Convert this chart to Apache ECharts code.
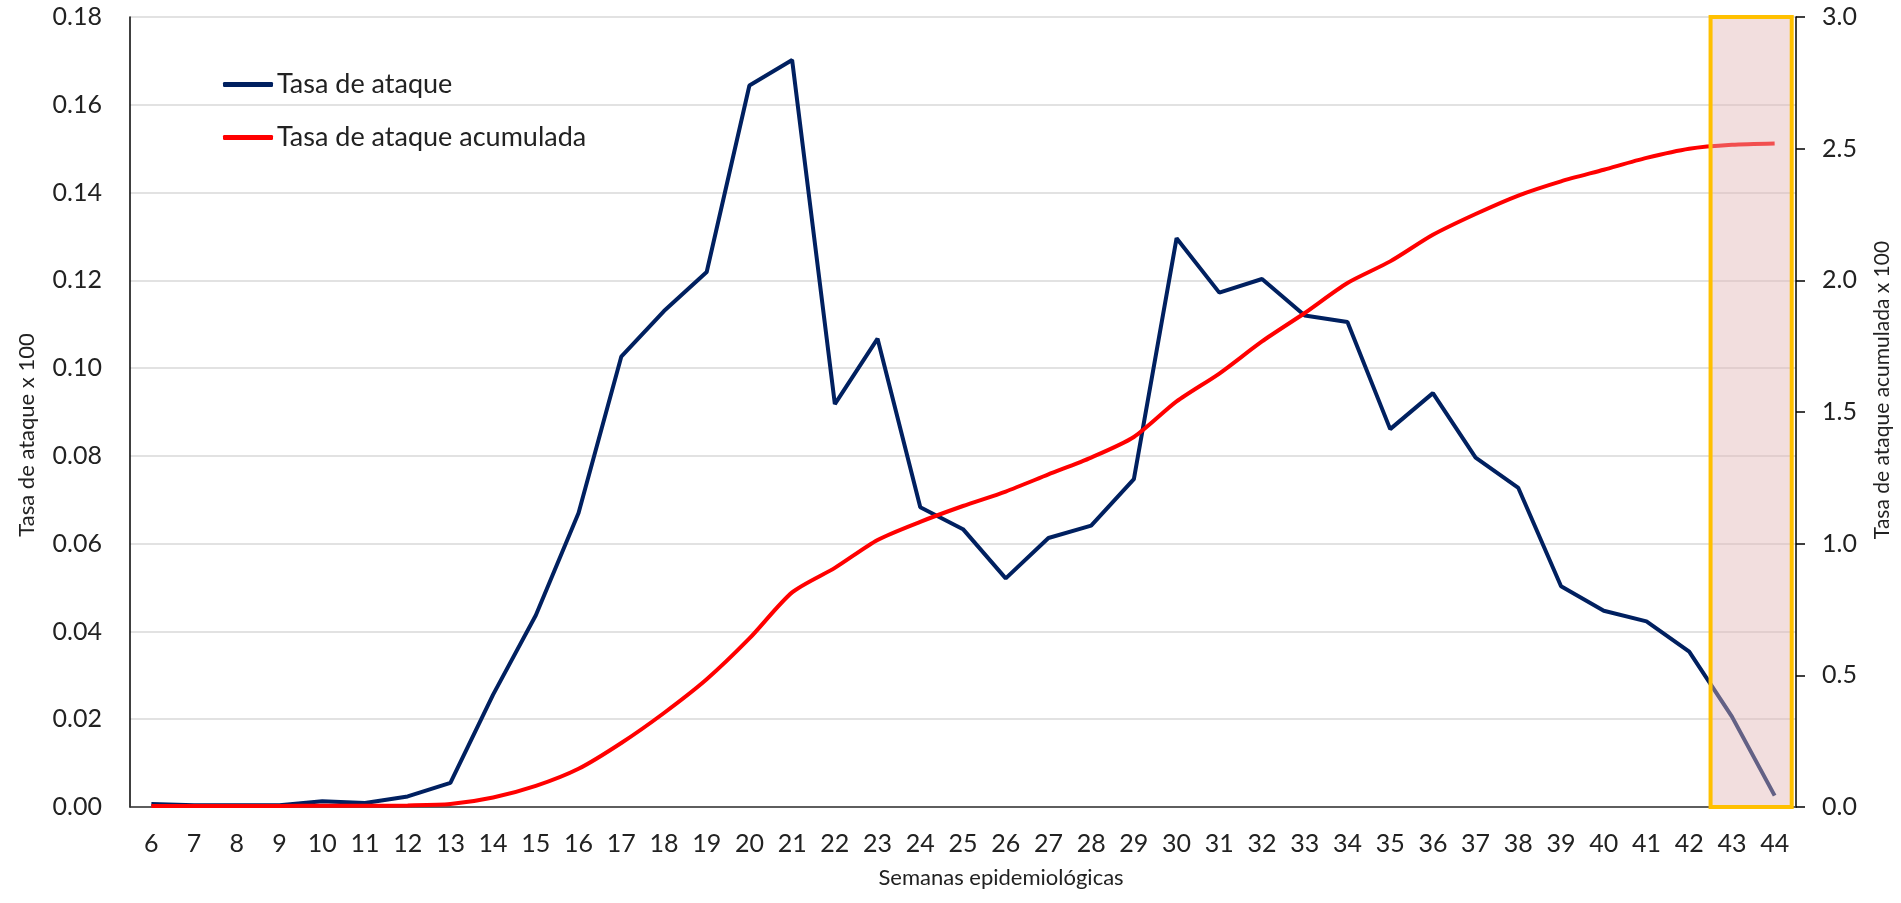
<!DOCTYPE html>
<html>
<head>
<meta charset="utf-8">
<script src="https://cdn.jsdelivr.net/npm/echarts@6/dist/echarts.min.js"></script>
<style>
  html, body { margin: 0; padding: 0; background: #fff; }
  #chart { width: 1901px; height: 903px; }
</style>
</head>
<body>
<div id="chart"></div>
<script>
// semanas epidemiológicas
var semanas = ['6','7','8','9','10','11','12','13','14','15','16','17','18','19','20','21','22','23','24','25',
  '26','27','28','29','30','31','32','33','34','35','36','37','38','39','40','41','42','43','44'];

// tasa de ataque x 100 (eje izquierdo)
var tasaAtaque = [0.0007, 0.0004, 0.0004, 0.0004, 0.0013, 0.0009, 0.0024, 0.0055, 0.0256, 0.0437,
  0.0670, 0.1026, 0.1130, 0.1219, 0.1644, 0.1702, 0.0918, 0.1067, 0.0683, 0.0633,
  0.0521, 0.0613, 0.0641, 0.0747, 0.1296, 0.1172, 0.1203, 0.1120, 0.1105, 0.0861,
  0.0943, 0.0796, 0.0727, 0.0503, 0.0447, 0.0423, 0.0354, 0.0206, 0.0026];

// tasa de ataque acumulada x 100 (eje derecho)
var tasaAcumulada = [0.004, 0.004, 0.004, 0.004, 0.005, 0.005, 0.006, 0.011, 0.036, 0.080,
  0.145, 0.243, 0.357, 0.485, 0.640, 0.815, 0.908, 1.014, 1.083, 1.143,
  1.198, 1.263, 1.327, 1.405, 1.540, 1.646, 1.768, 1.876, 1.990, 2.072,
  2.173, 2.252, 2.322, 2.376, 2.420, 2.465, 2.500, 2.515, 2.520];

// semanas resaltadas (datos preliminares)
var semanasResaltadas = [42.5, 44.4];

var fuente = 'Lato, "Open Sans", sans-serif';
var myChart = echarts.init(document.getElementById('chart'));

myChart.setOption({
  animation: false,
  textStyle: { fontFamily: fuente },
  grid: { left: 130, right: 105, top: 17, bottom: 96 },
  legend: {
    orient: 'vertical',
    left: 218,
    top: 66,
    itemGap: 26,
    itemWidth: 50,
    itemHeight: 5,
    data: [
      { name: 'Tasa de ataque', icon: 'roundRect' },
      { name: 'Tasa de ataque acumulada', icon: 'roundRect' }
    ],
    textStyle: { fontFamily: fuente, fontSize: 27, color: '#222', padding: [0, 0, 0, -1] }
  },
  xAxis: [
    {
      type: 'category',
      data: semanas,
      name: 'Semanas epidemiológicas',
      nameLocation: 'middle',
      nameGap: 60,
      nameTextStyle: { fontFamily: fuente, fontSize: 22, color: '#222', padding: [0, 0, 0, 76] },
      axisLine: { lineStyle: { color: '#333', width: 1.5 } },
      axisTick: { show: false },
      axisLabel: { fontFamily: fuente, fontSize: 25, color: '#222', margin: 24 }
    },
    {
      // eje auxiliar para el recuadro
      type: 'value',
      min: 5.5,
      max: 44.5,
      show: false
    }
  ],
  yAxis: [
    {
      type: 'value',
      min: 0,
      max: 0.18,
      interval: 0.02,
      name: 'Tasa de ataque x 100',
      nameLocation: 'middle',
      nameGap: 92,
      nameTextStyle: { fontFamily: fuente, fontSize: 22, color: '#222', padding: [0, 46, 0, 0] },
      axisLine: { show: true, lineStyle: { color: '#000', width: 1.5 } },
      axisTick: { show: false },
      splitLine: { lineStyle: { color: '#d9d9d9', width: 1.5 } },
      axisLabel: {
        fontFamily: fuente, fontSize: 25, color: '#222', margin: 28,
        formatter: function (v) { return v.toFixed(2); }
      }
    },
    {
      type: 'value',
      min: 0,
      max: 3,
      interval: 0.5,
      name: 'Tasa de ataque acumulada x 100',
      nameLocation: 'middle',
      nameGap: 76,
      nameRotate: 90,
      nameTextStyle: { fontFamily: fuente, fontSize: 21, color: '#222', padding: [0, 0, 0, 44] },
      axisLine: { show: true, lineStyle: { color: '#000', width: 1.5 } },
      axisTick: { show: true, length: 9, lineStyle: { color: '#000', width: 1.5 } },
      splitLine: { show: false },
      axisLabel: {
        fontFamily: fuente, fontSize: 25, color: '#222', margin: 26,
        formatter: function (v) { return v.toFixed(1); }
      }
    }
  ],
  series: [
    {
      name: 'Tasa de ataque',
      type: 'line',
      data: tasaAtaque,
      symbol: 'none',
      color: '#002060',
      lineStyle: { color: '#002060', width: 4 },
      z: 0
    },
    {
      name: 'Tasa de ataque acumulada',
      type: 'line',
      yAxisIndex: 1,
      data: tasaAcumulada,
      symbol: 'none',
      smooth: 0.25,
      color: '#ff0000',
      lineStyle: { color: '#ff0000', width: 4 },
      z: 0
    },
    {
      name: 'recuadro',
      type: 'line',
      xAxisIndex: 1,
      yAxisIndex: 0,
      data: [],
      z: 5,
      silent: true,
      markArea: {
        silent: true,
        itemStyle: {
          color: 'rgba(226,180,180,0.44)',
          borderColor: '#ffc000',
          borderWidth: 4
        },
        data: [[
          { xAxis: semanasResaltadas[0], yAxis: 0.1803 },
          { xAxis: semanasResaltadas[1], yAxis: -0.0006 }
        ]]
      }
    }
  ]
});
</script>
</body>
</html>
